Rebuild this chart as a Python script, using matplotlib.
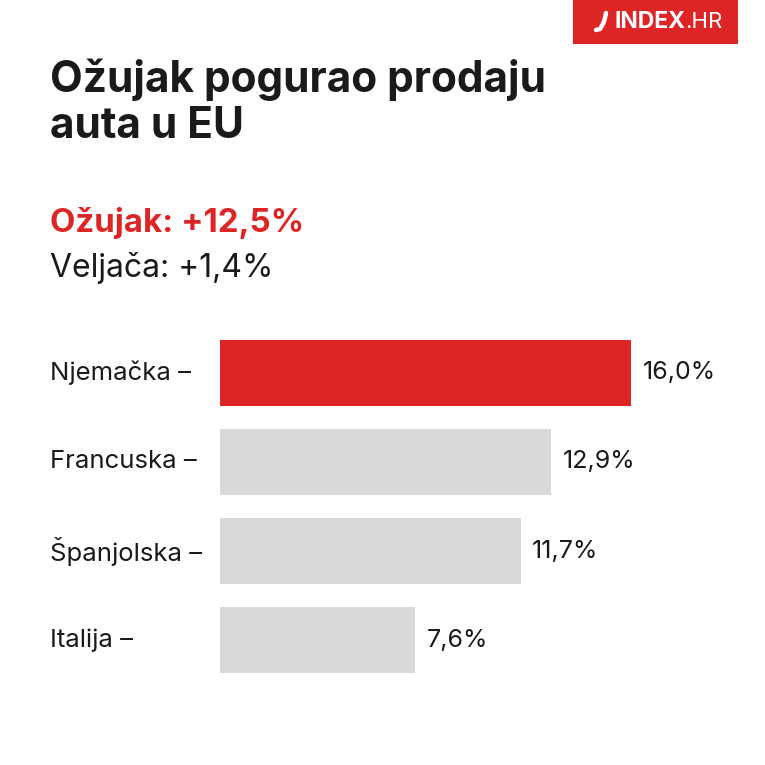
import matplotlib.pyplot as plt
from matplotlib.patches import Rectangle
from matplotlib.lines import Line2D

plt.rcParams['font.family'] = ['Inter', 'DejaVu Sans']

# podaci
zemlje = ["Njemačka", "Francuska", "Španjolska", "Italija"]
rast = [16.0, 12.9, 11.7, 7.6]
oznake = ["16,0%", "12,9%", "11,7%", "7,6%"]
naslov = ["Ožujak pogurao prodaju", "auta u EU"]
ozujak = "Ožujak: +12,5%"
veljaca = "Veljača: +1,4%"

crvena = "#DE2525"
siva = "#D9D9D9"
tekst = "#1A1A1A"

W = 765
fig = plt.figure(figsize=(7.65, 7.65), dpi=100)
fig.patch.set_facecolor("white")


def px(x, y):
    return x / W, 1 - y / W


# logo
logo = Rectangle(px(573, 44), 165 / W, 44 / W, transform=fig.transFigure,
                 facecolor=crvena, edgecolor="none")
fig.patches.append(logo)
fig.text(*px(685, 22), "INDEX", color="white", fontsize=16.5, fontweight="bold",
         ha="right", va="center")
fig.text(*px(685, 22), ".HR", color="white", fontsize=16, ha="left", va="center")
# papričica
cx = [596, 600, 603, 605, 606]
cy = [30, 29, 24, 18, 13]
fig.lines.append(Line2D([c / W for c in cx], [1 - c / W for c in cy],
                        transform=fig.transFigure, color="white", lw=3.2,
                        solid_capstyle="round"))

# naslovi
fig.text(*px(50, 92), naslov[0], color=tekst, fontsize=30.5, fontweight="bold",
         ha="left", va="baseline")
fig.text(*px(50, 138), naslov[1], color=tekst, fontsize=30.5, fontweight="bold",
         ha="left", va="baseline")
fig.text(*px(50, 232), ozujak, color=crvena, fontsize=23.8, fontweight="bold",
         ha="left", va="baseline")
fig.text(*px(50, 277), veljaca, color=tekst, fontsize=23,
         ha="left", va="baseline")

# stupci
ax = fig.add_axes([220 / W, 1 - 673 / W, 411 / W, 333 / W])
boje = [crvena] + [siva] * (len(zemlje) - 1)
pos = range(len(zemlje))
ax.barh(pos, rast, height=0.74, color=boje)
ax.set_xlim(0, 16.0)
ax.set_ylim(len(zemlje) - 1 + 0.37, -0.37)
ax.axis("off")

for i, (z, v, o) in enumerate(zip(zemlje, rast, oznake)):
    ax.text(v + 0.45, i, o, fontsize=18, color=tekst, ha="left", va="center")
    yd = ax.transData.transform((0, i))[1]
    yf = fig.transFigure.inverted().transform((0, yd))[1]
    fig.text(50 / W, yf, z + " –", fontsize=18.5, color=tekst, ha="left",
             va="center")

fig.savefig("out.png", dpi=100, facecolor="white")
